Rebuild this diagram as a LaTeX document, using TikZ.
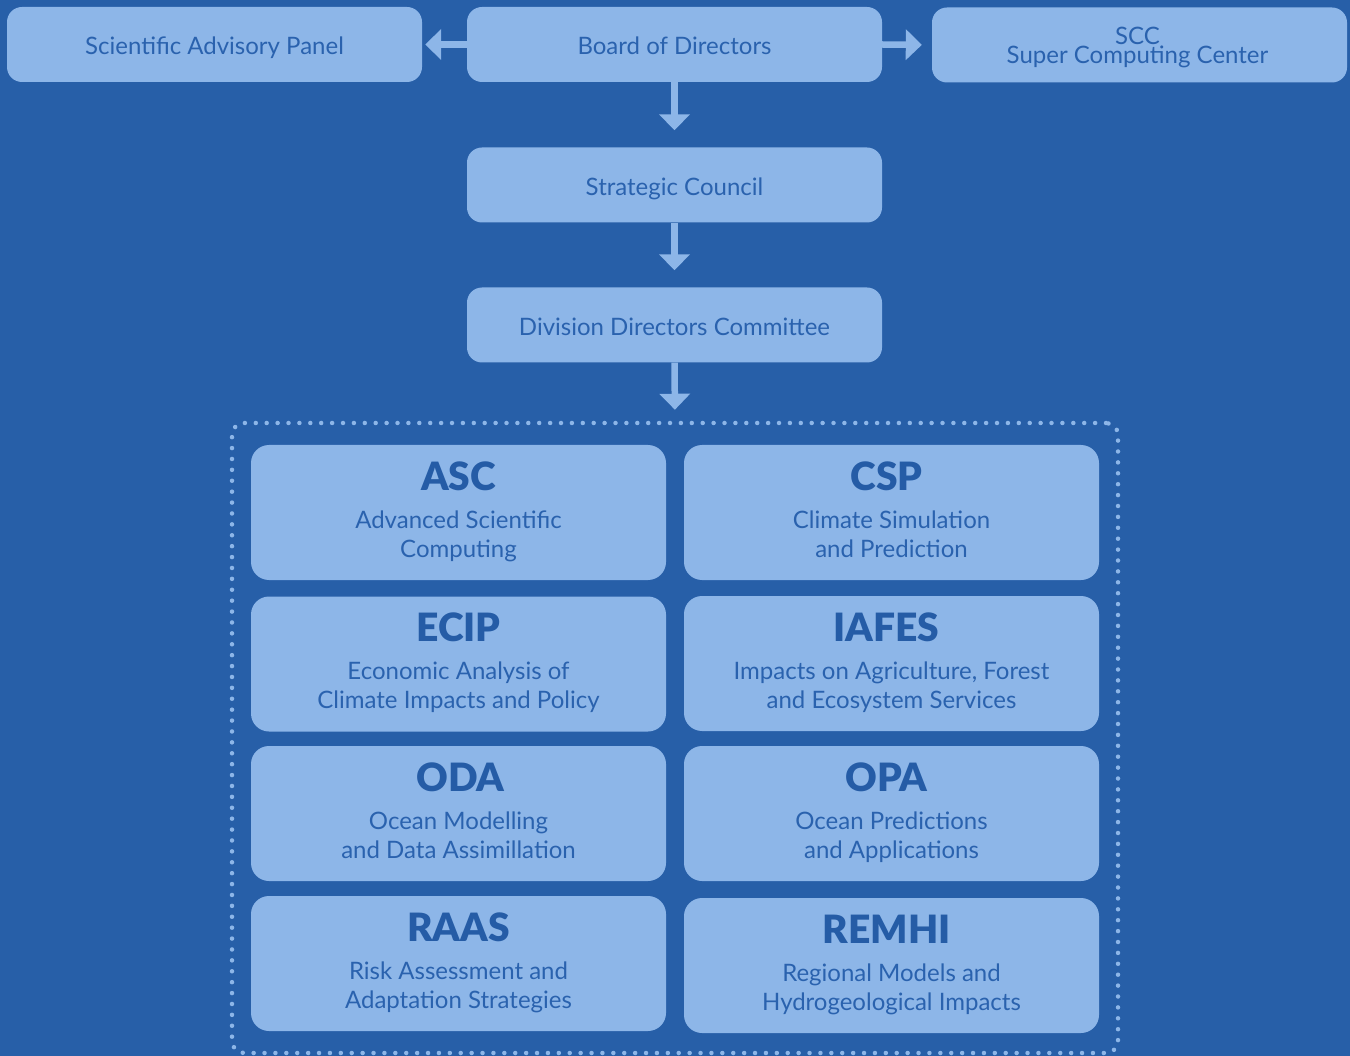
\documentclass[tikz,border=0pt]{standalone}
\usepackage{fontspec}
\setmainfont{Lato}[BoldFont=*-Black]
\usetikzlibrary{arrows.meta}
\definecolor{bgc}{HTML}{275FA8}
\definecolor{boxc}{HTML}{8DB6E8}
\definecolor{txtc}{HTML}{2A62AE}
\definecolor{ttlc}{HTML}{255CA6}
\tikzset{
  topbox/.style={rounded corners=15pt, fill=boxc, draw=none, minimum width=415pt, minimum height=75pt,
    inner sep=0pt, text=txtc, font=\fontsize{24}{29}\selectfont, text height=21pt, text depth=0pt},
  divbox/.style={rounded corners=18pt, fill=boxc, draw=none, minimum width=415pt, minimum height=135pt, inner sep=0pt},
  ttl/.style={text=ttlc, font=\bfseries\fontsize{39}{40}\selectfont, inner sep=0pt},
  sub/.style={text=txtc, font=\fontsize{24}{29}\selectfont, inner sep=0pt},
  arr/.style={draw=boxc, line width=6.5pt, -{Triangle[width=30pt,length=16pt]}},
  dotbox/.style={draw=boxc, line width=4.5pt, dash pattern=on 0pt off 10.9pt, line cap=round,
    rounded corners=12pt, minimum width=886pt, minimum height=630pt, inner sep=0pt}
}
\newcommand\mydiv[7]{%
  \node[divbox] (#1) at (#2,#3) {};
  \node[ttl, anchor=base] (#1t) at ([xshift=#7pt, yshift=22.5pt]#1.center) {#4};
  \node[sub, anchor=base] (#1a) at ([yshift=-15.5pt]#1.center) {#5};
  \node[sub, anchor=base] (#1b) at ([yshift=-44.5pt]#1.center) {#6};
}
\begin{document}
\begin{tikzpicture}[x=1pt, y=-1pt]
\fill[bgc] (0,0) rectangle (1350,1056);
\useasboundingbox (0,0) rectangle (1350,1056);
\node[topbox] (sap) at (214.5,44.5) {Scientific Advisory Panel};
\node[topbox] (bod) at (674.5,44.5) {Board of Directors};
\node[topbox, text height=0pt, text depth=0pt] (scc) at (1139.5,45) {};
\node[sub, anchor=base] (scc1) at ([xshift=-2pt, yshift=0.5pt]scc.center) {SCC};
\node[sub, anchor=base] (scc2) at ([xshift=-2pt, yshift=-19pt]scc.center) {Super Computing Center};
\node[topbox] (sc) at (674.5,185) {Strategic Council};
\node[topbox] (ddc) at (674.5,325) {Division Directors Committee};
\node[dotbox] (grp) at (675,738) {};
\draw[arr, shorten >=3pt] (bod.west) -- (sap.east);
\draw[arr, shorten >=10pt] (bod.east) -- (scc.west);
\draw[arr, shorten >=17pt] (bod.south) -- (sc.north);
\draw[arr, shorten >=17pt] (sc.south) -- (ddc.north);
\draw[arr, shorten >=11pt] (ddc.south) -- (grp.north);
\mydiv{asc}{458.5}{512.5}{ASC}{Advanced Scientific}{Computing}{0}
\mydiv{csp}{891.5}{512.5}{CSP}{Climate Simulation}{and Prediction}{-5}
\mydiv{ecip}{458.5}{664}{ECIP}{Economic Analysis of}{Climate Impacts and Policy}{0}
\mydiv{iafes}{891.5}{663.5}{IAFES}{Impacts on Agriculture, Forest}{and Ecosystem Services}{-5}
\mydiv{oda}{458.5}{813.5}{ODA}{Ocean Modelling}{and Data Assimillation}{2}
\mydiv{opa}{891.5}{813.5}{OPA}{Ocean Predictions}{and Applications}{-5}
\mydiv{raas}{458.5}{963.5}{RAAS}{Risk Assessment and}{Adaptation Strategies}{0}
\mydiv{remhi}{891.5}{965.5}{REMHI}{Regional Models and}{Hydrogeological Impacts}{-5}
\end{tikzpicture}
\end{document}
